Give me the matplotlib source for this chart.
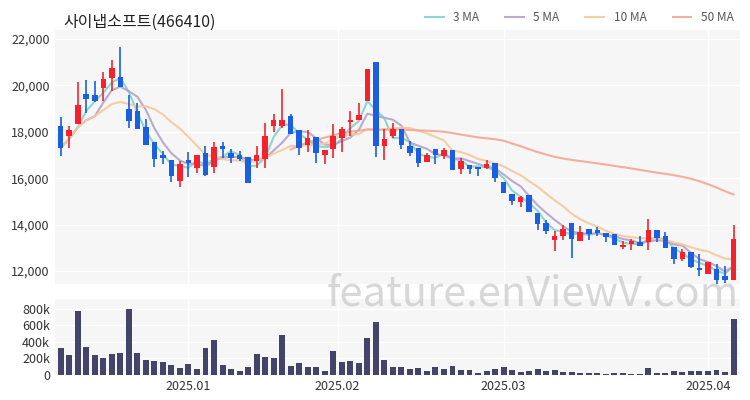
import numpy as np
import pandas as pd
import matplotlib
matplotlib.use("Agg")
import matplotlib.pyplot as plt
from matplotlib.ticker import FuncFormatter

plt.rcParams['font.family'] = ['Noto Sans CJK KR', 'DejaVu Sans']

# =========================
# Data
# =========================

TITLE = "사이냅소프트(466410)"

opens = [18240, 17810, 18340, 19640, 19570, 19880, 20340, 20380, 18980, 18880,
         18210, 17570, 17020, 16770, 15880, 16770, 16450, 17070, 16490, 17400,
         17100, 16980, 16910, 16740, 16850, 18240, 18240, 18700, 18100, 17450,
         17770, 17020, 17240, 17740, 18410, 18500, 19310, 21000, 17380, 17840,
         18130, 17380, 17310, 16710, 17270, 16950, 17210, 16380, 16570, 16480,
         16450, 16640, 15850, 15310, 14980, 15270, 14520, 14090, 13350, 13490,
         14060, 13300, 13800, 13760, 13620, 13590, 13020, 13160, 13260, 13230,
         13760, 13490, 13020, 12520, 12830, 12120, 11880, 12090, 11780, 11630]
closes = [17310, 18100, 19170, 19430, 19340, 20270, 20770, 19930, 18450, 18140,
          17450, 16810, 16880, 16090, 16600, 16670, 16980, 16160, 17350, 17270,
          16880, 16840, 15810, 16980, 17840, 18500, 18530, 17920, 17310, 17740,
          17100, 17200, 17810, 18130, 18530, 18740, 20700, 17380, 17670, 18130,
          17450, 17100, 16640, 17020, 16980, 17210, 16350, 16740, 16410, 16380,
          16620, 16020, 15380, 15020, 15210, 14550, 14020, 13730, 13520, 13830,
          13380, 13690, 13590, 13630, 13450, 13120, 13120, 13280, 13060, 13760,
          13410, 12980, 12520, 12810, 12190, 12060, 12380, 11630, 11630, 13380]
highs = [18650, 18240, 20140, 20240, 20200, 20560, 21100, 21640, 19600, 19240,
         18540, 17570, 17160, 16770, 16730, 17120, 16980, 17400, 17570, 17570,
         17250, 17160, 16910, 17370, 18400, 18750, 19860, 18750, 18100, 18100,
         17770, 17200, 18330, 18200, 18910, 19260, 20700, 21000, 18130, 18400,
         18130, 17600, 17310, 17100, 17270, 17310, 17210, 16880, 16570, 16480,
         16800, 16640, 15850, 15310, 15250, 15270, 14520, 14220, 13730, 13980,
         14060, 13950, 13800, 13900, 13620, 13590, 13310, 13390, 13530, 14250,
         13760, 13670, 13020, 12970, 12830, 12740, 12380, 12300, 12200, 13990]
lows = [16940, 17310, 18340, 18810, 19270, 19310, 19740, 19930, 18170, 18140,
        17450, 16490, 16600, 15840, 15610, 16070, 16230, 16100, 16230, 16880,
        16640, 16740, 15810, 16450, 16450, 17990, 18160, 17920, 17000, 17140,
        16640, 16620, 16880, 17140, 17840, 18500, 19310, 16930, 16770, 17740,
        17240, 16950, 16500, 16710, 16600, 16810, 16350, 16200, 16200, 16110,
        16380, 15820, 15380, 14860, 14780, 14550, 13760, 13590, 12870, 13330,
        12540, 13300, 13350, 13490, 13250, 13120, 12960, 12920, 13060, 12920,
        13230, 12980, 12310, 12450, 12110, 11790, 11880, 11400, 11500, 11630]
volumes = [320, 235, 770, 340, 235, 205, 255, 260, 800, 260,
           175, 170, 150, 115, 85, 130, 75, 330, 420, 120,
           65, 45, 100, 255, 215, 200, 480, 110, 140, 90,
           95, 45, 285, 150, 170, 145, 450, 640, 180, 90,
           90, 70, 85, 45, 95, 75, 110, 55, 55, 25,
           40, 65, 95, 55, 30, 50, 75, 40, 60, 35,
           30, 25, 25, 25, 10, 25, 25, 15, 15, 80,
           25, 25, 40, 30, 45, 40, 40, 60, 30, 670]
# 50-day average shown from candle 27 onward (needs history not on the chart)
ma50_start = 27
ma50 = [17240, 17400, 17550, 17650, 17750, 17850, 17950, 18000, 18050, 18100,
        18100, 18100, 18100, 18100, 18080, 18060, 18050, 18030, 18000, 17950,
        17880, 17820, 17760, 17720, 17680, 17620, 17500, 17380, 17250, 17130,
        17020, 16920, 16850, 16790, 16740, 16690, 16640, 16590, 16530, 16480,
        16420, 16360, 16300, 16240, 16190, 16130, 16060, 15980, 15870, 15740,
        15600, 15440, 15300]

month_labels = ["2025.01", "2025.02", "2025.03", "2025.04"]
month_pos = [15, 32.5, 52, 76]

UP = "#f5222d"
DOWN = "#1a5fe0"
MA_COLORS = {"3 MA": "#7fd3cc", "5 MA": "#b3a3cc", "10 MA": "#f5c89a", "50 MA": "#f5a595"}

# =========================
# Figure
# =========================

x = np.arange(len(opens))
close_s = pd.Series(closes, dtype=float)

fig = plt.figure(figsize=(7.5, 4), dpi=100)
ax = fig.add_axes([0.073, 0.29, 0.913, 0.635])
axv = fig.add_axes([0.073, 0.063, 0.913, 0.19], sharex=ax)

for a in (ax, axv):
    a.set_facecolor("#f6f6f6")
    for s in a.spines.values():
        s.set_visible(False)
    a.grid(axis="y", color="white", linewidth=1)
    a.grid(axis="x", color="white", linewidth=1)
    a.set_axisbelow(True)
    a.tick_params(length=0, labelsize=9, colors="#333333")

for i in x:
    up = closes[i] >= opens[i]
    c = UP if up else DOWN
    ax.vlines(i, lows[i], highs[i], color=c, linewidth=1.2, zorder=3)
    lo = min(opens[i], closes[i])
    h = max(abs(closes[i] - opens[i]), 40)
    ax.bar(i, h, bottom=lo, width=0.65, color=c, zorder=3)

for win, name in [(3, "3 MA"), (5, "5 MA"), (10, "10 MA")]:
    ma = close_s.rolling(win, min_periods=1).mean()
    ax.plot(x, ma, color=MA_COLORS[name], linewidth=1.5, label=name, zorder=2, alpha=0.9)
ax.plot(x[ma50_start:], ma50, color=MA_COLORS["50 MA"], linewidth=1.5, label="50 MA", zorder=2, alpha=0.9)

ax.set_xlim(-0.7, len(opens) - 0.3)
ax.set_ylim(11440, 22390)
ax.set_yticks([12000, 14000, 16000, 18000, 20000, 22000])
ax.yaxis.set_major_formatter(FuncFormatter(lambda v, p: f"{int(v):,}"))
ax.tick_params(axis="x", labelbottom=False)

leg = ax.legend(loc="lower right", bbox_to_anchor=(1.0, 1.0), ncol=4, frameon=False,
                fontsize=8.5, handlelength=1.6, columnspacing=2.2, borderaxespad=0.1)
for t in leg.get_texts():
    t.set_color("#555555")

fig.text(0.085, 0.945, TITLE, fontsize=11.5, color="#222222", va="center")

axv.bar(x, volumes, width=0.7, color="#44446a", zorder=3)
axv.set_ylim(0, 920)
axv.set_yticks([0, 200, 400, 600, 800])
axv.yaxis.set_major_formatter(FuncFormatter(lambda v, p: "0" if v == 0 else f"{int(v)}k"))
axv.set_xticks(month_pos)
axv.set_xticklabels(month_labels)

fig.text(0.985, 0.265, "feature.enViewV.com", fontsize=30, color="#c8c8c8",
         alpha=0.7, ha="right", va="center", zorder=10)

fig.savefig("out.png", dpi=100)
